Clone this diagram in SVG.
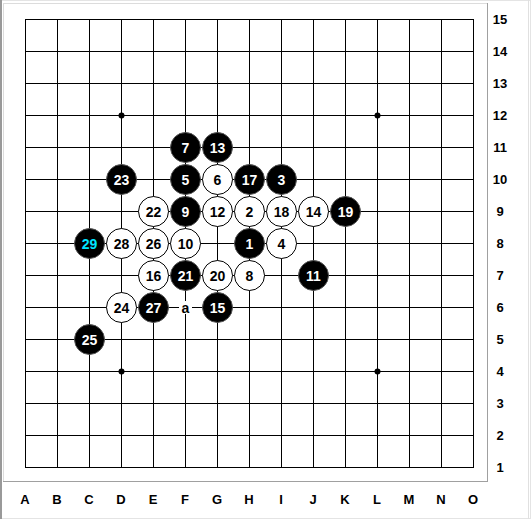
<svg xmlns="http://www.w3.org/2000/svg" width="531" height="519" viewBox="0 0 531 519">
<style>
.grid line{stroke:#000;stroke-width:1}
.b circle{fill:#000;stroke:#555;stroke-width:1}
.w circle{fill:#fff;stroke:#000;stroke-width:1}
.n{font-family:"Liberation Sans",Arial,sans-serif;font-size:14px;font-weight:bold;text-anchor:middle;dominant-baseline:central}
.b text{fill:#fff}
.w text{fill:#000}
.lab{font-family:"Liberation Sans",Arial,sans-serif;font-size:13px;font-weight:bold;text-anchor:middle;dominant-baseline:central;fill:#000}
</style>
<rect x="0" y="0" width="531" height="519" fill="#fff"/>
<rect x="0.5" y="0.5" width="530" height="518" fill="none" stroke="#e4e4e4"/>
<line x1="1" y1="0" x2="1" y2="519" stroke="#999" stroke-width="2"/>
<rect x="3.5" y="3.5" width="484" height="478" fill="#fff" stroke="#dcdcdc"/>
<line x1="487.5" y1="3" x2="487.5" y2="482" stroke="#a0a0a0"/>
<line x1="3" y1="481.5" x2="488" y2="481.5" stroke="#a0a0a0"/>
<line x1="528.5" y1="0" x2="528.5" y2="519" stroke="#e0e0e0"/>
<g id="grid" class="grid">
<line x1="25" y1="19.5" x2="474" y2="19.5"/><line x1="25" y1="51.5" x2="474" y2="51.5"/><line x1="25" y1="83.5" x2="474" y2="83.5"/><line x1="25" y1="115.5" x2="474" y2="115.5"/><line x1="25" y1="147.5" x2="474" y2="147.5"/><line x1="25" y1="179.5" x2="474" y2="179.5"/><line x1="25" y1="211.5" x2="474" y2="211.5"/><line x1="25" y1="243.5" x2="474" y2="243.5"/><line x1="25" y1="275.5" x2="474" y2="275.5"/><line x1="25" y1="307.5" x2="474" y2="307.5"/><line x1="25" y1="339.5" x2="474" y2="339.5"/><line x1="25" y1="371.5" x2="474" y2="371.5"/><line x1="25" y1="403.5" x2="474" y2="403.5"/><line x1="25" y1="435.5" x2="474" y2="435.5"/><line x1="25" y1="467.5" x2="474" y2="467.5"/>
<line x1="25.5" y1="19" x2="25.5" y2="468"/><line x1="57.5" y1="19" x2="57.5" y2="468"/><line x1="89.5" y1="19" x2="89.5" y2="468"/><line x1="121.5" y1="19" x2="121.5" y2="468"/><line x1="153.5" y1="19" x2="153.5" y2="468"/><line x1="185.5" y1="19" x2="185.5" y2="468"/><line x1="217.5" y1="19" x2="217.5" y2="468"/><line x1="249.5" y1="19" x2="249.5" y2="468"/><line x1="281.5" y1="19" x2="281.5" y2="468"/><line x1="313.5" y1="19" x2="313.5" y2="468"/><line x1="345.5" y1="19" x2="345.5" y2="468"/><line x1="377.5" y1="19" x2="377.5" y2="468"/><line x1="409.5" y1="19" x2="409.5" y2="468"/><line x1="441.5" y1="19" x2="441.5" y2="468"/><line x1="473.5" y1="19" x2="473.5" y2="468"/>
</g>
<g id="stars" fill="#000">
<circle cx="121.5" cy="115.5" r="3"/><circle cx="377.5" cy="115.5" r="3"/><circle cx="121.5" cy="371.5" r="3"/><circle cx="377.5" cy="371.5" r="3"/>
</g>
<g id="rows" class="lab">
<text x="500" y="19">15</text><text x="500" y="51">14</text><text x="500" y="83">13</text><text x="500" y="115">12</text><text x="500" y="147">11</text><text x="500" y="179">10</text><text x="500" y="211">9</text><text x="500" y="243">8</text><text x="500" y="275">7</text><text x="500" y="307">6</text><text x="500" y="339">5</text><text x="500" y="371">4</text><text x="500" y="403">3</text><text x="500" y="435">2</text><text x="500" y="467">1</text>
</g>
<g id="cols" class="lab">
<text x="25" y="499">A</text><text x="57" y="499">B</text><text x="89" y="499">C</text><text x="121" y="499">D</text><text x="153" y="499">E</text><text x="185" y="499">F</text><text x="217" y="499">G</text><text x="249" y="499">H</text><text x="281" y="499">I</text><text x="313" y="499">J</text><text x="345" y="499">K</text><text x="377" y="499">L</text><text x="409" y="499">M</text><text x="441" y="499">N</text><text x="473" y="499">O</text>
</g>
<g id="mark-a">
<rect x="179" y="301" width="13" height="13" fill="#fff"/>
<text class="n" x="185.5" y="307.5" fill="#000">a</text>
</g>
<g id="s1" class="b"><circle cx="249.5" cy="243.5" r="15"/><text class="n" x="249.5" y="243.5">1</text></g>
<g id="s2" class="w"><circle cx="249.5" cy="211.5" r="15"/><text class="n" x="249.5" y="211.5">2</text></g>
<g id="s3" class="b"><circle cx="281.5" cy="179.5" r="15"/><text class="n" x="281.5" y="179.5">3</text></g>
<g id="s4" class="w"><circle cx="281.5" cy="243.5" r="15"/><text class="n" x="281.5" y="243.5">4</text></g>
<g id="s5" class="b"><circle cx="185.5" cy="179.5" r="15"/><text class="n" x="185.5" y="179.5">5</text></g>
<g id="s6" class="w"><circle cx="217.5" cy="179.5" r="15"/><text class="n" x="217.5" y="179.5">6</text></g>
<g id="s7" class="b"><circle cx="185.5" cy="147.5" r="15"/><text class="n" x="185.5" y="147.5">7</text></g>
<g id="s8" class="w"><circle cx="249.5" cy="275.5" r="15"/><text class="n" x="249.5" y="275.5">8</text></g>
<g id="s9" class="b"><circle cx="185.5" cy="211.5" r="15"/><text class="n" x="185.5" y="211.5">9</text></g>
<g id="s10" class="w"><circle cx="185.5" cy="243.5" r="15"/><text class="n" x="185.5" y="243.5">10</text></g>
<g id="s11" class="b"><circle cx="313.5" cy="275.5" r="15"/><text class="n" x="313.5" y="275.5">11</text></g>
<g id="s12" class="w"><circle cx="217.5" cy="211.5" r="15"/><text class="n" x="217.5" y="211.5">12</text></g>
<g id="s13" class="b"><circle cx="217.5" cy="147.5" r="15"/><text class="n" x="217.5" y="147.5">13</text></g>
<g id="s14" class="w"><circle cx="313.5" cy="211.5" r="15"/><text class="n" x="313.5" y="211.5">14</text></g>
<g id="s15" class="b"><circle cx="217.5" cy="307.5" r="15"/><text class="n" x="217.5" y="307.5">15</text></g>
<g id="s16" class="w"><circle cx="153.5" cy="275.5" r="15"/><text class="n" x="153.5" y="275.5">16</text></g>
<g id="s17" class="b"><circle cx="249.5" cy="179.5" r="15"/><text class="n" x="249.5" y="179.5">17</text></g>
<g id="s18" class="w"><circle cx="281.5" cy="211.5" r="15"/><text class="n" x="281.5" y="211.5">18</text></g>
<g id="s19" class="b"><circle cx="345.5" cy="211.5" r="15"/><text class="n" x="345.5" y="211.5">19</text></g>
<g id="s20" class="w"><circle cx="217.5" cy="275.5" r="15"/><text class="n" x="217.5" y="275.5">20</text></g>
<g id="s21" class="b"><circle cx="185.5" cy="275.5" r="15"/><text class="n" x="185.5" y="275.5">21</text></g>
<g id="s22" class="w"><circle cx="153.5" cy="211.5" r="15"/><text class="n" x="153.5" y="211.5">22</text></g>
<g id="s23" class="b"><circle cx="121.5" cy="179.5" r="15"/><text class="n" x="121.5" y="179.5">23</text></g>
<g id="s24" class="w"><circle cx="121.5" cy="307.5" r="15"/><text class="n" x="121.5" y="307.5">24</text></g>
<g id="s25" class="b"><circle cx="89.5" cy="339.5" r="15"/><text class="n" x="89.5" y="339.5">25</text></g>
<g id="s26" class="w"><circle cx="153.5" cy="243.5" r="15"/><text class="n" x="153.5" y="243.5">26</text></g>
<g id="s27" class="b"><circle cx="153.5" cy="307.5" r="15"/><text class="n" x="153.5" y="307.5">27</text></g>
<g id="s28" class="w"><circle cx="121.5" cy="243.5" r="15"/><text class="n" x="121.5" y="243.5">28</text></g>
<g id="s29" class="b"><circle cx="89.5" cy="243.5" r="15"/><text class="n" x="89.5" y="243.5" style="fill:#00e5ff">29</text></g>
</svg>
